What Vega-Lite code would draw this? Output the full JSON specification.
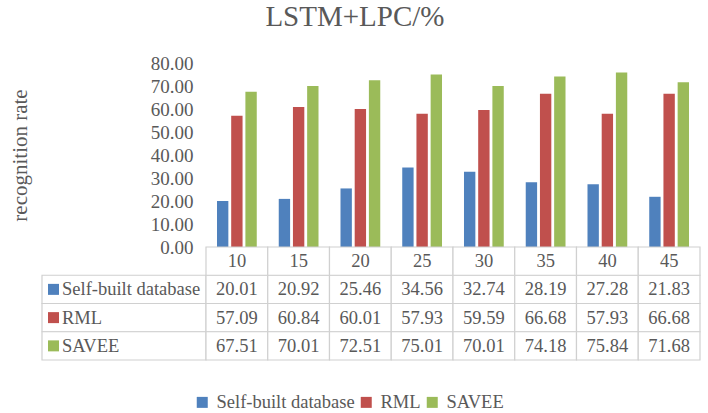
{
  "$schema": "https://vega.github.io/schema/vega-lite/v6.json",
  "padding": {"left": 9, "top": 3, "right": 5, "bottom": 5},
  "background": "white",
  "datasets": {
    "rates": [
      {"n": "10", "series": "Self-built database", "rate": 20.01},
      {"n": "10", "series": "RML", "rate": 57.09},
      {"n": "10", "series": "SAVEE", "rate": 67.51},
      {"n": "15", "series": "Self-built database", "rate": 20.92},
      {"n": "15", "series": "RML", "rate": 60.84},
      {"n": "15", "series": "SAVEE", "rate": 70.01},
      {"n": "20", "series": "Self-built database", "rate": 25.46},
      {"n": "20", "series": "RML", "rate": 60.01},
      {"n": "20", "series": "SAVEE", "rate": 72.51},
      {"n": "25", "series": "Self-built database", "rate": 34.56},
      {"n": "25", "series": "RML", "rate": 57.93},
      {"n": "25", "series": "SAVEE", "rate": 75.01},
      {"n": "30", "series": "Self-built database", "rate": 32.74},
      {"n": "30", "series": "RML", "rate": 59.59},
      {"n": "30", "series": "SAVEE", "rate": 70.01},
      {"n": "35", "series": "Self-built database", "rate": 28.19},
      {"n": "35", "series": "RML", "rate": 66.68},
      {"n": "35", "series": "SAVEE", "rate": 74.18},
      {"n": "40", "series": "Self-built database", "rate": 27.28},
      {"n": "40", "series": "RML", "rate": 57.93},
      {"n": "40", "series": "SAVEE", "rate": 75.84},
      {"n": "45", "series": "Self-built database", "rate": 21.83},
      {"n": "45", "series": "RML", "rate": 66.68},
      {"n": "45", "series": "SAVEE", "rate": 71.68}
    ]
  },
  "title": {
    "text": "LSTM+LPC/%",
    "fontSize": 29,
    "fontWeight": "normal",
    "color": "#595959",
    "anchor": "middle",
    "frame": "bounds",
    "offset": 22
  },
  "columns": 2,
  "spacing": 0,
  "bounds": "flush",
  "concat": [
    {
      "width": 164,
      "height": 184,
      "data": {"values": []},
      "mark": "point",
      "encoding": {}
    },
    {
      "width": 494,
      "height": 184,
      "data": {"name": "rates"},
      "mark": {"type": "bar"},
      "encoding": {
        "x": {
          "field": "n",
          "type": "ordinal",
          "scale": {"paddingInner": 0.356, "paddingOuter": 0.178},
          "axis": null
        },
        "xOffset": {
          "field": "series",
          "type": "nominal",
          "sort": ["Self-built database", "RML", "SAVEE"],
          "scale": {"paddingInner": 0.2}
        },
        "y": {
          "field": "rate",
          "type": "quantitative",
          "scale": {"domain": [0, 80]},
          "axis": {
            "title": "recognition rate",
            "values": [0, 10, 20, 30, 40, 50, 60, 70, 80],
            "format": ".2f",
            "domain": false,
            "ticks": false,
            "grid": false,
            "labelPadding": 13,
            "labelFontSize": 19,
            "labelColor": "#595959",
            "titleFontSize": 21,
            "titleFontWeight": "normal",
            "titleColor": "#595959",
            "titlePadding": 120
          }
        },
        "color": {
          "field": "series",
          "type": "nominal",
          "scale": {
            "domain": ["Self-built database", "RML", "SAVEE"],
            "range": ["#4f81bd", "#c0504d", "#9bbb59"]
          },
          "legend": {
            "orient": "none",
            "legendX": 151,
            "legendY": 330,
            "direction": "horizontal",
            "title": null,
            "symbolType": "square",
            "symbolSize": 121,
            "symbolStrokeWidth": 0,
            "labelFontSize": 18.5,
            "labelColor": "#595959",
            "labelOffset": 5,
            "columnPadding": 2
          }
        }
      }
    },
    {
      "width": 164,
      "height": 113,
      "data": {"name": "rates"},
      "transform": [{"filter": "datum.n == '10'"}],
      "encoding": {
        "y": {
          "field": "series",
          "type": "nominal",
          "scale": {
            "domain": ["n", "Self-built database", "RML", "SAVEE"],
            "paddingInner": 0,
            "paddingOuter": 0
          },
          "axis": null
        }
      },
      "layer": [
        {
          "mark": {"type": "rect", "fill": "white", "stroke": "#d0d0d0", "strokeWidth": 1.2},
          "encoding": {
            "x": {"datum": 0, "type": "quantitative", "scale": {"domain": [0, 1]}, "axis": null},
            "x2": {"datum": 1}
          }
        },
        {
          "mark": {"type": "point", "shape": "square", "filled": true, "size": 121, "opacity": 1},
          "encoding": {
            "x": {"datum": 0.07, "type": "quantitative"},
            "color": {
              "field": "series",
              "type": "nominal",
              "scale": {
                "domain": ["Self-built database", "RML", "SAVEE"],
                "range": ["#4f81bd", "#c0504d", "#9bbb59"]
              },
              "legend": {
                "orient": "none",
                "legendX": 151,
                "legendY": 330,
                "direction": "horizontal",
                "title": null,
                "symbolType": "square",
                "symbolSize": 121,
                "symbolStrokeWidth": 0,
                "labelFontSize": 18.5,
                "labelColor": "#595959",
                "labelOffset": 5,
                "columnPadding": 2
              }
            }
          }
        },
        {
          "mark": {"type": "text", "align": "left", "baseline": "middle", "fontSize": 18.5, "color": "#595959", "font": "Liberation Serif"},
          "encoding": {
            "x": {"datum": 0.122, "type": "quantitative"},
            "text": {"field": "series"}
          }
        }
      ]
    },
    {
      "width": 494,
      "height": 113,
      "data": {"name": "rates"},
      "encoding": {
        "x": {
          "field": "n",
          "type": "ordinal",
          "scale": {"paddingInner": 0, "paddingOuter": 0},
          "axis": null
        }
      },
      "layer": [
        {
          "mark": {"type": "rect", "fill": "white", "stroke": "#d0d0d0", "strokeWidth": 1.2},
          "encoding": {
            "y": {
              "field": "series",
              "type": "nominal",
              "scale": {
                "domain": ["n", "Self-built database", "RML", "SAVEE"],
                "paddingInner": 0,
                "paddingOuter": 0
              },
              "axis": null
            }
          }
        },
        {
          "transform": [{"filter": "datum.series == 'RML'"}],
          "mark": {"type": "rect", "fill": "white", "stroke": "#d0d0d0", "strokeWidth": 1.2},
          "encoding": {
            "y": {"datum": "n", "type": "nominal"}
          }
        },
        {
          "mark": {"type": "text", "baseline": "middle", "fontSize": 18.5, "color": "#595959", "font": "Liberation Serif"},
          "encoding": {
            "y": {"field": "series", "type": "nominal"},
            "text": {"field": "rate", "type": "quantitative", "format": ".2f"}
          }
        },
        {
          "transform": [{"filter": "datum.series == 'RML'"}],
          "mark": {"type": "text", "baseline": "middle", "fontSize": 18.5, "color": "#595959", "font": "Liberation Serif"},
          "encoding": {
            "y": {"datum": "n", "type": "nominal"},
            "text": {"field": "n"}
          }
        }
      ]
    }
  ],
  "config": {
    "view": {"stroke": null},
    "font": "Liberation Serif",
    "title": {"font": "Liberation Serif"},
    "axis": {"labelFont": "Liberation Serif", "titleFont": "Liberation Serif"},
    "legend": {"labelFont": "Liberation Serif", "titleFont": "Liberation Serif"},
    "text": {"font": "Liberation Serif"}
  }
}
